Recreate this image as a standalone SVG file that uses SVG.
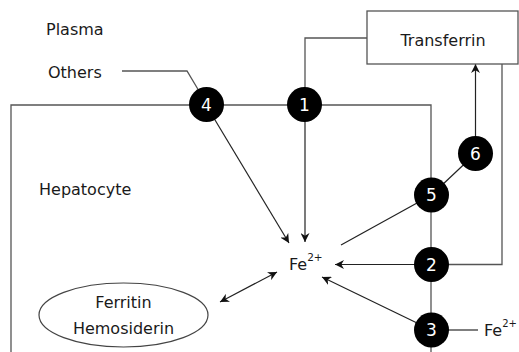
<svg xmlns="http://www.w3.org/2000/svg" width="519" height="352" viewBox="0 0 519 352">
<defs>
<style>
text{font-family:"DejaVu Sans",Verdana,sans-serif;font-size:16px;fill:#1a1a1a}
.ln{fill:none;stroke:#555;stroke-width:1.3}
.ar{fill:none;stroke:#222;stroke-width:1.2}
.nd circle{fill:#000}
.nd text{fill:#fff;font-size:17px;text-anchor:middle}
</style>
<marker id="ah" viewBox="0 0 10 10" refX="10" refY="5" markerWidth="9" markerHeight="9" markerUnits="userSpaceOnUse" orient="auto-start-reverse">
<path d="M0,0 L10,5 L0,10 L3,5 Z" fill="#111"/>
</marker>
</defs>
<rect width="519" height="352" fill="#fff"/>
<text x="46" y="35">Plasma</text>
<text x="48" y="78">Others</text>
<text x="39" y="195">Hepatocyte</text>
<g id="connectors">
<polyline class="ln" points="11,352 11,105 431,105 431,352"/>
<polyline class="ln" points="122,71 187,71 199,91"/>
<polyline class="ln" points="305,105 305,38 367,38"/>
<polyline class="ln" points="502,64 502,264.5 431,264.5"/>
<line class="ln" x1="431" y1="330" x2="478" y2="330"/>
<line class="ar" x1="305" y1="105" x2="305" y2="242" marker-end="url(#ah)"/>
<line class="ar" x1="206" y1="105" x2="289" y2="243" marker-end="url(#ah)"/>
<line class="ar" x1="475.5" y1="153.5" x2="475.5" y2="64" marker-end="url(#ah)"/>
<line class="ar" x1="475.5" y1="153.5" x2="431.5" y2="195"/>
<line class="ar" x1="431.5" y1="195" x2="341" y2="245"/>
<line class="ar" x1="431.5" y1="264.5" x2="335" y2="264.5" marker-end="url(#ah)"/>
<line class="ar" x1="431.5" y1="330" x2="322" y2="277" marker-end="url(#ah)"/>
<line class="ar" x1="220" y1="302" x2="277" y2="272" marker-start="url(#ah)" marker-end="url(#ah)"/>
</g>
<g id="transferrin">
<rect x="367" y="11" width="151" height="53" fill="#fff" stroke="#555" stroke-width="1.3"/>
<text x="443" y="46" text-anchor="middle">Transferrin</text>
</g>
<g id="ferritin">
<ellipse cx="123.5" cy="315" rx="84.5" ry="32" fill="#fff" stroke="#444" stroke-width="1.2"/>
<text x="123.5" y="308" text-anchor="middle">Ferritin</text>
<text x="123.5" y="334" text-anchor="middle">Hemosiderin</text>
</g>
<g id="fe-center">
<text x="289" y="270">Fe<tspan font-size="10.5px" dy="-9">2+</tspan></text>
</g>
<g id="fe-outer">
<text x="484" y="336">Fe<tspan font-size="10px" dy="-9">2+</tspan></text>
</g>
<g id="n1" class="nd"><circle cx="304.5" cy="104.5" r="17.5"/><text x="304.5" y="110.5">1</text></g>
<g id="n2" class="nd"><circle cx="431.5" cy="264.5" r="17.5"/><text x="431.5" y="270.5">2</text></g>
<g id="n3" class="nd"><circle cx="431.5" cy="330" r="17.5"/><text x="431.5" y="336">3</text></g>
<g id="n4" class="nd"><circle cx="206.5" cy="104.5" r="17.5"/><text x="206.5" y="110.5">4</text></g>
<g id="n5" class="nd"><circle cx="431.5" cy="195" r="17.5"/><text x="431.5" y="201">5</text></g>
<g id="n6" class="nd"><circle cx="475.5" cy="153.5" r="17.5"/><text x="475.5" y="159.5">6</text></g>
</svg>
